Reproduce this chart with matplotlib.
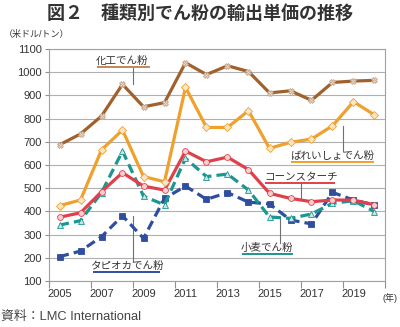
import numpy as np
import matplotlib
matplotlib.use('Agg')
from matplotlib import pyplot as plt

plt.rcParams['font.family'] = ['Liberation Sans', 'Noto Sans CJK JP', 'DejaVu Sans']

years = list(range(2005, 2021))
year_labels = ['2005', '2007', '2009', '2011', '2013', '2015', '2017', '2019']

chemical = [687, 734, 811, 948, 851, 869, 1041, 990, 1028, 1003, 911, 920, 879, 956, 962, 965]
potato = [425, 449, 665, 751, 550, 528, 935, 762, 762, 834, 672, 698, 712, 769, 873, 816]
corn = [375, 394, 485, 567, 509, 492, 660, 614, 634, 580, 478, 456, 442, 449, 449, 428]
wheat = [341, 360, 481, 660, 466, 428, 629, 550, 561, 492, 376, 370, 389, 435, 446, 399]
tapioca = [205, 229, 291, 381, 284, 456, 509, 452, 481, 440, 432, 363, 346, 482, 449, 428]

x = np.arange(len(years))

fig = plt.figure(figsize=(4.0, 3.27), dpi=100)
ax = fig.add_axes([0.1225, 0.1407, 0.84, 0.7093])

# (values, color, linestyle, marker, marker face)
series = [
    (tapioca, '#2f4f9e', (0, (3, 1.6)), 's', '#2f4f9e'),
    (wheat, '#1b9690', (0, (3, 1.6)), '^', '#c8e6e4'),
    (corn, '#e0404c', '-', 'o', '#f6d0d0'),
    (potato, '#f0a02c', '-', 'D', '#fbe6c4'),
    (chemical, '#a0612c', '-', 'X', '#ead8c6'),
]
for vals, col, ls, mk, mfc in series:
    ax.plot(x, vals, color=col, lw=2.3, ls=ls, marker=mk, ms=4.2,
            mfc=mfc, mec='#c8a890' if mk == 'X' else col, mew=0.6, zorder=3)

ax.set_xlim(-0.5, 15.5)
ax.set_ylim(100, 1100)
ax.set_yticks(range(100, 1101, 100))
ax.yaxis.grid(True, color='#b0b0b0', lw=0.8)
ax.set_axisbelow(True)
ax.tick_params(axis='y', length=3, color='#909090', labelsize=8, pad=2, labelcolor='#333333')

# category-axis: ticks on boundaries, labels on centers
ax.set_xticks(np.arange(-0.5, 16, 2))
ax.set_xticklabels([])
ax.set_xticks(np.arange(0, 16, 2), minor=True)
ax.set_xticklabels(year_labels, minor=True)
ax.tick_params(axis='x', which='major', length=5, color='#909090')
ax.tick_params(axis='x', which='minor', length=0, labelsize=8, pad=6, labelcolor='#333333')
for s in ax.spines.values():
    s.set_color('#a0a0a0')
    s.set_linewidth(0.8)

def tag(text, tx, uy, x0, x1, col):
    ax.text(tx, uy + 4, text, ha='center', va='bottom', fontsize=7.6, color='#333333', zorder=5)
    ax.plot([x0, x1], [uy, uy], color=col, lw=1.4, solid_capstyle='butt', zorder=5)

def leader(px, y0, y1):
    ax.plot([px, px], [y0, y1], color='#707070', lw=0.8, zorder=2)

tag('化工でん粉', 3.0, 1023, 1.8, 4.3, '#c08858')
leader(3.5, 1023, 948)

tag('ばれいしょでん粉', 13.0, 613, 11.0, 15.0, '#f0a02c')
leader(13.5, 769, 660)

tag('コーンスターチ', 11.5, 522, 9.8, 13.1, '#e0404c')
leader(11.5, 522, 456)

tag('小麦でん粉', 9.9, 216, 8.7, 11.1, '#1b9690')
leader(10.5, 376, 262)

tag('タピオカでん粉', 3.2, 139, 1.6, 4.8, '#2f4f9e')
leader(3.5, 381, 185)

fig.text(0.5, 0.957, '図２　種類別でん粉の輸出単価の推移', ha='center', va='center',
         fontsize=13, fontweight='bold', color='#333333')
fig.text(0.01, 0.895, '（米ドル/トン）', ha='left', va='center', fontsize=6.5, color='#333333')
fig.text(0.974, 0.088, '(年)', ha='center', va='center', fontsize=6.5, color='#333333')
fig.text(0.003, 0.03, '資料：LMC International', ha='left', va='center', fontsize=9.3, color='#444444')

fig.savefig('out.png', dpi=100)
